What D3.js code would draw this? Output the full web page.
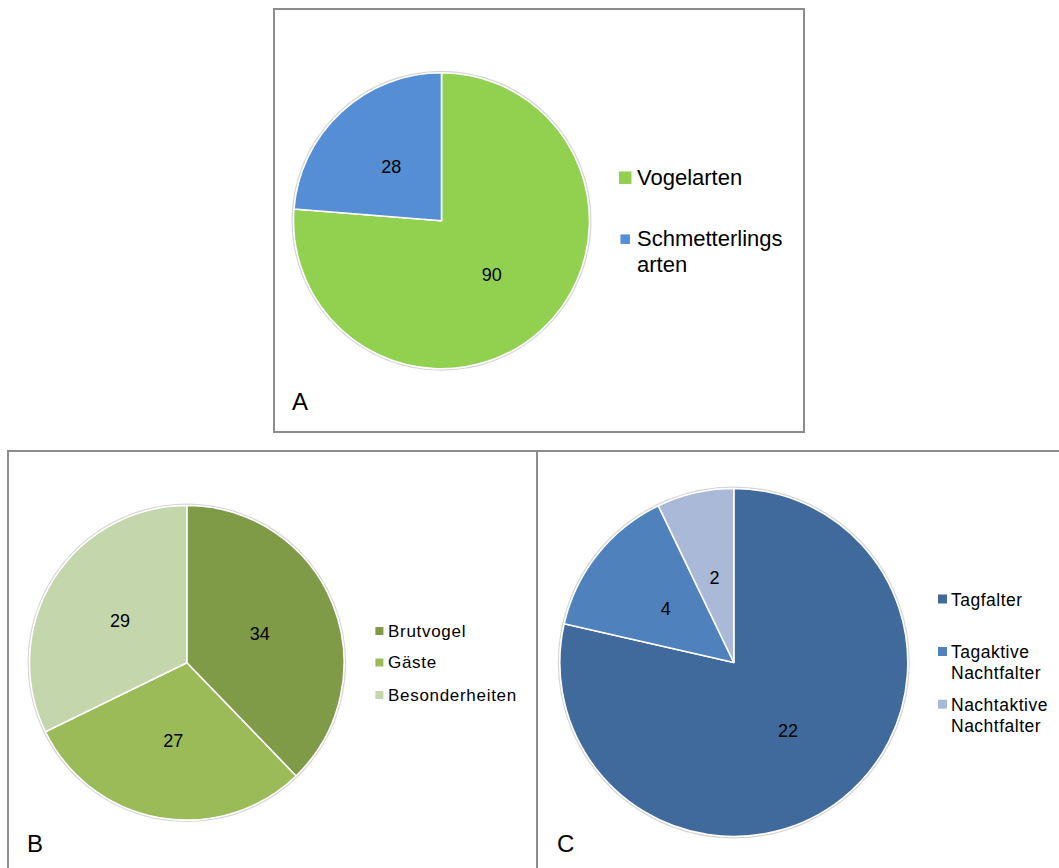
<!DOCTYPE html>
<html><head><meta charset="utf-8">
<script src="https://cdn.jsdelivr.net/npm/d3@7"></script>
<style>body{margin:0;background:#fff}svg{display:block}</style>
</head><body>
<svg id="chart" width="1059" height="868"></svg>
<script>
// Panel A: species counts
const artenCategories = ["Vogelarten", "Schmetterlingsarten"];
const artenLegend = [["Vogelarten"], ["Schmetterlings", "arten"]];
const artenValues = [90, 28];
const artenColors = ["#92D050", "#558ED5"];

// Panel B: bird groups
const vogelCategories = ["Brutvogel", "Gäste", "Besonderheiten"];
const vogelLegend = [["Brutvogel"], ["Gäste"], ["Besonderheiten"]];
const vogelValues = [34, 27, 29];
const vogelColors = ["#7F9B48", "#9BBB59", "#C4D6AB"];

// Panel C: butterfly / moth groups
const falterCategories = ["Tagfalter", "Tagaktive Nachtfalter", "Nachtaktive Nachtfalter"];
const falterLegend = [["Tagfalter"], ["Tagaktive", "Nachtfalter"], ["Nachtaktive", "Nachtfalter"]];
const falterValues = [22, 4, 2];
const falterColors = ["#416A9C", "#4F81BD", "#AAB9D7"];

const panelLetters = ["A", "B", "C"];

const svg = d3.select("#chart");
const FONT = "'Liberation Sans', Arial, Helvetica, sans-serif";

const panels = [
  {
    letter: panelLetters[0], categories: artenCategories, legend: artenLegend,
    values: artenValues, colors: artenColors,
    frame: {x: 274, y: 9, w: 530, h: 423},
    cx: 441.5, cy: 220.8, r: 148,
    letterPos: {x: 292, y: 410, size: 24},
    legendStyle: {sqX: 625.2, textX: 637, baselines: [[184.5], [246, 272]],
                  sqSizes: [12.5, 9.5], sqOffset: 6.8, fontSize: 22, spacing: 0}
  },
  {
    letter: panelLetters[1], categories: vogelCategories, legend: vogelLegend,
    values: vogelValues, colors: vogelColors,
    frame: {x: 8, y: 451, w: 529, h: 440},
    cx: 186.8, cy: 662.8, r: 157.3,
    letterPos: {x: 27, y: 852, size: 24},
    legendStyle: {sqX: 379.4, textX: 388, baselines: [[636.5], [668], [700.5]],
                  sqSizes: [8, 8, 8], sqOffset: 5.5, fontSize: 17, spacing: 0.7}
  },
  {
    letter: panelLetters[2], categories: falterCategories, legend: falterLegend,
    values: falterValues, colors: falterColors,
    frame: {x: 537, y: 451, w: 540, h: 440},
    cx: 733.8, cy: 662.5, r: 174,
    letterPos: {x: 557, y: 852, size: 24},
    legendStyle: {sqX: 942.5, textX: 951, baselines: [[605.5], [658, 679], [710.7, 732]],
                  sqSizes: [9, 9, 9], sqOffset: 6.5, fontSize: 17.5, spacing: 0.5}
  }
];

panels.forEach(p => {
  const g = svg.append("g");

  // frame
  g.append("rect")
    .attr("x", p.frame.x).attr("y", p.frame.y)
    .attr("width", p.frame.w).attr("height", p.frame.h)
    .attr("fill", "none").attr("stroke", "#8c8c8c").attr("stroke-width", 2);

  const pie = d3.pie().sort(null).value(d => d)
    .startAngle(0).endAngle(2 * Math.PI);
  const arcs = pie(p.values);
  const arc = d3.arc().innerRadius(0).outerRadius(p.r);
  const labelArc = d3.arc().innerRadius(0).outerRadius(p.r);

  const pieG = g.append("g").attr("transform", `translate(${p.cx},${p.cy})`);

  // soft rim around the pie
  pieG.append("circle").attr("r", p.r + 1.2)
    .attr("fill", "none").attr("stroke", "#d6d6d6").attr("stroke-width", 1.6);

  pieG.selectAll("path.slice").data(arcs).enter().append("path")
    .attr("class", "slice")
    .attr("d", arc)
    .attr("fill", (d, i) => p.colors[i])
    .attr("stroke", "#ffffff").attr("stroke-width", 1.6)
    .attr("stroke-linejoin", "round");

  pieG.selectAll("text.val").data(arcs).enter().append("text")
    .attr("class", "val")
    .attr("transform", d => `translate(${labelArc.centroid(d)})`)
    .attr("text-anchor", "middle").attr("dy", "0.35em")
    .attr("font-family", FONT).attr("font-size", 18).attr("fill", "#000")
    .text(d => d.data);

  // legend
  const ls = p.legendStyle;
  p.legend.forEach((lines, i) => {
    const s = ls.sqSizes[i];
    const b0 = ls.baselines[i][0];
    g.append("rect")
      .attr("x", ls.sqX - s / 2).attr("y", b0 - ls.sqOffset - s / 2)
      .attr("width", s).attr("height", s)
      .attr("fill", p.colors[i]);
    const t = g.append("text")
      .attr("font-family", FONT).attr("font-size", ls.fontSize)
      .attr("letter-spacing", ls.spacing).attr("fill", "#000");
    lines.forEach((line, j) => {
      t.append("tspan").attr("x", ls.textX).attr("y", ls.baselines[i][j]).text(line);
    });
  });

  // panel letter
  g.append("text")
    .attr("x", p.letterPos.x).attr("y", p.letterPos.y)
    .attr("font-family", FONT).attr("font-size", p.letterPos.size).attr("fill", "#000")
    .text(p.letter);
});
</script>
</body></html>
